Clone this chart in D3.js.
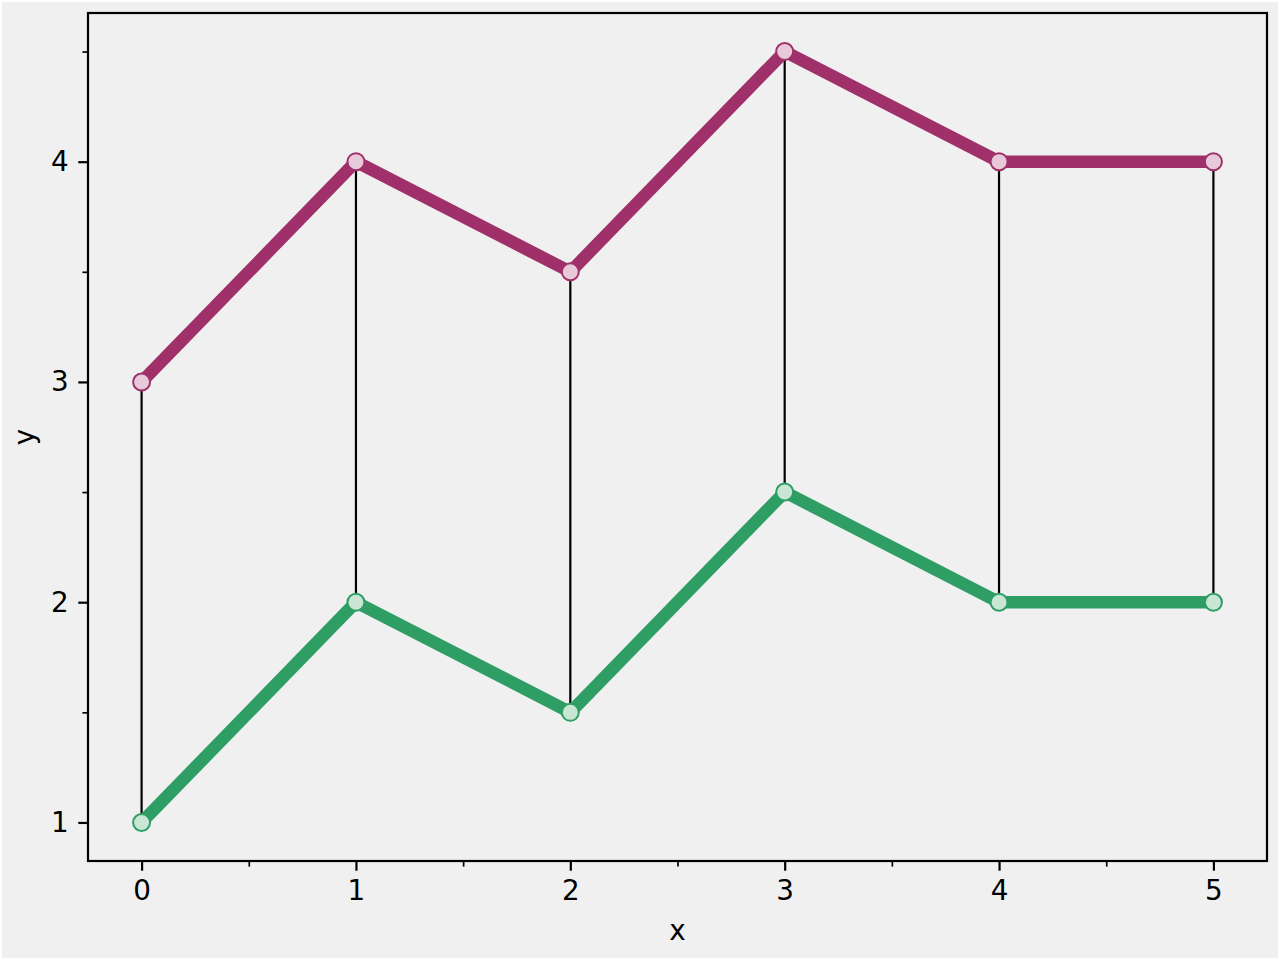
<!DOCTYPE html>
<html><head><meta charset="utf-8">
<script src="https://cdn.jsdelivr.net/npm/d3@7"></script>
<style>html,body{margin:0;padding:0;background:#fff;}svg{display:block;}</style>
</head><body>
<script>
const xs = [0, 1, 2, 3, 4, 5];
const upper = [3, 4, 3.5, 4.5, 4, 4];
const lower = [1, 2, 1.5, 2.5, 2, 2];
const xTicks = [0, 1, 2, 3, 4, 5];
const yTicks = [1, 2, 3, 4];
const xMinor = [0.5, 1.5, 2.5, 3.5, 4.5];
const yMinor = [1.5, 2.5, 3.5, 4.5];

const W = 1280, H = 960;
const m = {l: 88, r: 1267, t: 13, b: 861};
const svg = d3.select("body").append("svg").attr("width", W).attr("height", H);
svg.append("rect").attr("x", 2).attr("y", 2).attr("width", W - 4).attr("height", H - 4).attr("fill", "#f0f0f0");

const x = d3.scaleLinear().domain([-0.25, 5.25]).range([m.l, m.r]);
const y = d3.scaleLinear().domain([0.825, 4.675]).range([m.b, m.t]);

const font = "DejaVu Sans, sans-serif";
const fs = 27.8;
// axes
const xAxis = svg.append("g").attr("transform", `translate(0,${m.b})`)
  .call(d3.axisBottom(x).tickValues(xTicks).tickFormat(d3.format("d")).tickSize(9.7).tickPadding(9.2));
const xAxisMinor = svg.append("g").attr("transform", `translate(0,${m.b})`)
  .call(d3.axisBottom(x).tickValues(xMinor).tickFormat("").tickSize(5.6));
const yAxis = svg.append("g").attr("transform", `translate(${m.l},0)`)
  .call(d3.axisLeft(y).tickValues(yTicks).tickFormat(d3.format("d")).tickSize(9.7).tickPadding(9.7));
const yAxisMinor = svg.append("g").attr("transform", `translate(${m.l},0)`)
  .call(d3.axisLeft(y).tickValues(yMinor).tickFormat("").tickSize(5.6));
[xAxis, yAxis].forEach(g => g.selectAll("line").attr("stroke-width", 2.2));
[xAxisMinor, yAxisMinor].forEach(g => g.selectAll("line").attr("stroke-width", 1.7));
[xAxis, xAxisMinor, yAxis, yAxisMinor].forEach(g => {
  g.attr("font-size", null).attr("font-family", null);
  g.select(".domain").remove();
  g.selectAll("line").attr("stroke", "#000");
  g.selectAll("text").attr("font-family", font).attr("font-size", fs).attr("fill", "#000");
});

// vertical connectors
svg.append("g").selectAll("line").data(xs).join("line")
  .attr("x1", d => x(d)).attr("x2", d => x(d))
  .attr("y1", (d, i) => y(lower[i])).attr("y2", (d, i) => y(upper[i]))
  .attr("stroke", "#000").attr("stroke-width", 2.2);

const line = d3.line().x((d, i) => x(xs[i])).y(d => y(d));
const series = [
  {vals: upper, color: "#a0306a", fill: "#e8c9d9"},
  {vals: lower, color: "#2e9e64", fill: "#c9e6d5"}
];
series.forEach(s => {
  svg.append("path").datum(s.vals).attr("d", line).attr("fill", "none")
    .attr("stroke", s.color).attr("stroke-width", 12.5).attr("stroke-linejoin", "round").attr("stroke-linecap", "round");
});
series.forEach(s => {
  svg.append("g").selectAll("circle").data(s.vals).join("circle")
    .attr("cx", (d, i) => x(xs[i])).attr("cy", d => y(d)).attr("r", 8.5)
    .attr("fill", s.fill).attr("stroke", s.color).attr("stroke-width", 2);
});

// spines
svg.append("rect").attr("x", m.l).attr("y", m.t).attr("width", m.r - m.l).attr("height", m.b - m.t)
  .attr("fill", "none").attr("stroke", "#000").attr("stroke-width", 2.2);

svg.append("text").attr("x", (m.l + m.r) / 2).attr("y", 940).attr("text-anchor", "middle")
  .attr("font-family", font).attr("font-size", fs).text("x");
svg.append("text").attr("transform", `translate(34,${(m.t + m.b) / 2}) rotate(-90)`).attr("text-anchor", "middle")
  .attr("font-family", font).attr("font-size", fs).text("y");
</script>
</body></html>
